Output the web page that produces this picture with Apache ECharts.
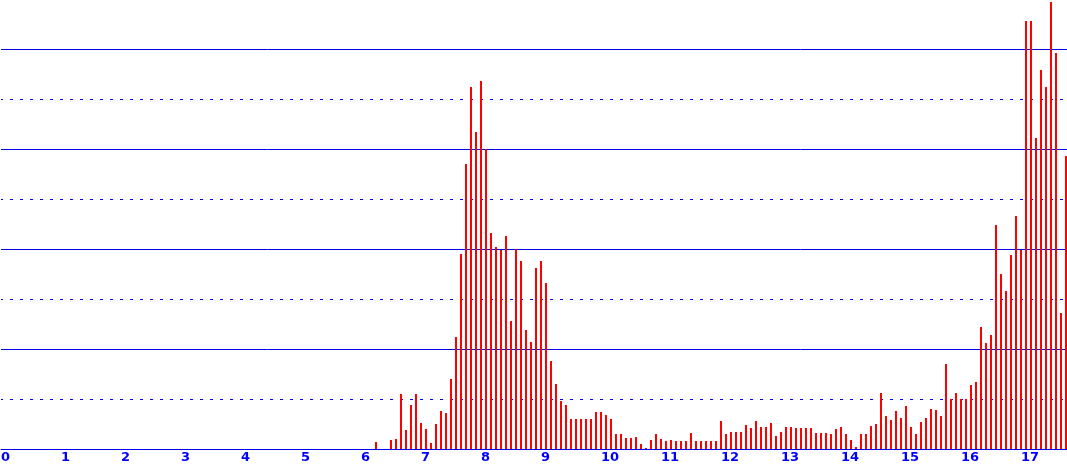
<!DOCTYPE html>
<html>
<head>
<meta charset="utf-8">
<script src="https://cdn.jsdelivr.net/npm/echarts@6/dist/echarts.min.js"></script>
<style>
html,body{margin:0;padding:0;background:#ffffff;}
#chart{width:1067px;height:469px;}
</style>
</head>
<body>
<div id="chart"></div>
<script>
// 5-minute slots, first slot starts at 6:15 (minutes after midnight)
const firstSlotMinute = 6 * 60 + 15;
const slotLength = 5;

// bar heights per 5-minute slot, 6:15 ... 17:45
const counts = [
  7, 0, 0, 9, 10, 55, 19, 44, 55, 26,
  20, 6, 25, 38, 36, 70, 112, 195, 285, 362,
  317, 368, 300, 216, 202, 199, 213, 128, 200, 188,
  119, 107, 181, 188, 166, 88, 65, 48, 44, 30,
  30, 30, 30, 30, 37, 37, 34, 30, 15, 15,
  11, 11, 12, 5, 1, 9, 15, 10, 8, 9,
  8, 8, 8, 16, 8, 8, 8, 8, 8, 28,
  15, 17, 17, 17, 24, 21, 28, 22, 22, 26,
  13, 17, 22, 22, 21, 21, 21, 21, 16, 16,
  16, 15, 20, 22, 15, 9, 2, 15, 15, 23,
  25, 56, 33, 29, 38, 31, 43, 22, 15, 27,
  31, 40, 39, 33, 85, 50, 56, 50, 50, 64,
  67, 122, 106, 114, 224, 175, 158, 194, 233, 199,
  428, 428, 311, 379, 362, 447, 396, 136, 293
];

// hour tick labels along the bottom
const hourLabels = ['0','1','2','3','4','5','6','7','8','9','10','11','12','13','14','15','16','17'];

// horizontal guide levels
const solidInterval = 100;
const dashedLevels = [50, 150, 250, 350];

const lineColor = '#0000EE';
const labelColor = '#0000FF';

const seriesData = counts.map((v, i) => [firstSlotMinute + i * slotLength, v]);

const chart = echarts.init(document.getElementById('chart'), null, {renderer: 'canvas'});
chart.setOption({
  animation: false,
  backgroundColor: '#ffffff',
  grid: {left: 1, right: 0, top: -51, bottom: 20, containLabel: false, outerBoundsMode: 'none'},
  xAxis: {
    type: 'value',
    min: 0,
    max: 1066,
    interval: 60,
    axisLine: {show: true, lineStyle: {color: lineColor, width: 1}},
    axisTick: {show: false},
    splitLine: {show: false},
    axisLabel: {
      show: true,
      align: 'left',
      margin: 2,
      color: labelColor,
      fontFamily: 'DejaVu Sans',
      fontWeight: 'bold',
      fontSize: 13,
      showMaxLabel: false,
      hideOverlap: false,
      formatter: function (v) {
        if (v % 60 !== 0) return '';
        const h = v / 60;
        return hourLabels[h] !== undefined ? hourLabels[h] : '';
      }
    }
  },
  yAxis: {
    type: 'value',
    min: 0,
    max: 500,
    interval: solidInterval,
    axisLine: {show: false},
    axisTick: {show: false},
    axisLabel: {show: false},
    splitLine: {show: true, lineStyle: {color: lineColor, width: 1, type: 'solid'}}
  },
  series: [{
    type: 'bar',
    data: seriesData,
    barWidth: 2,
    itemStyle: {color: '#FF0000'},
    silent: true,
    z: 3,
    markLine: {
      silent: true,
      symbol: ['none', 'none'],
      label: {show: false},
      lineStyle: {color: lineColor, width: 1, type: [3, 7], dashOffset: 1},
      data: dashedLevels.map(v => ({yAxis: v})),
      z: 1
    }
  }]
});
</script>
</body>
</html>
